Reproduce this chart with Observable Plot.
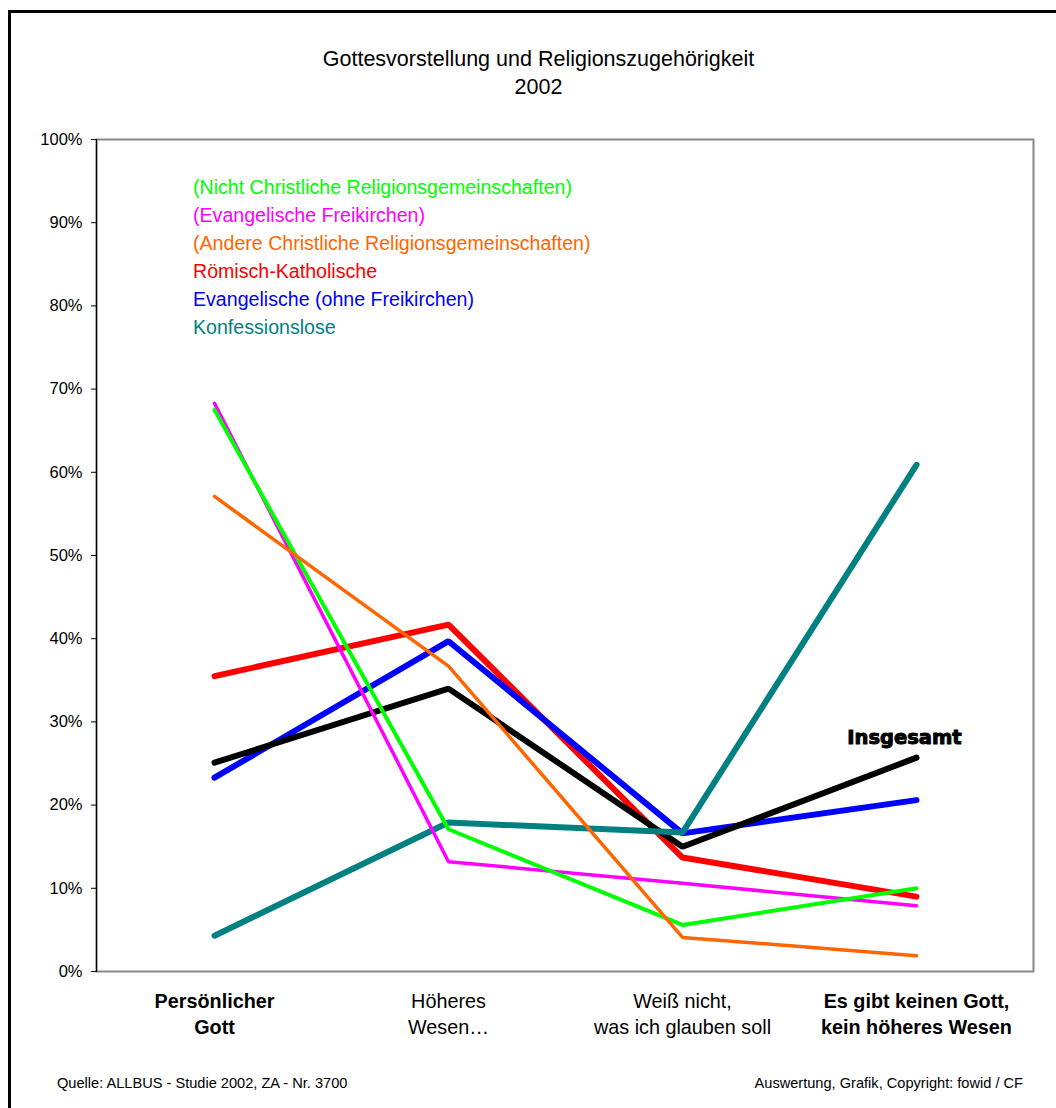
<!DOCTYPE html>
<html><head><meta charset="utf-8">
<script src="https://cdn.jsdelivr.net/npm/d3@7"></script>
<script src="https://cdn.jsdelivr.net/npm/@observablehq/plot@0.6"></script>
<style>
html,body{margin:0;padding:0;}
body{width:1056px;height:1108px;overflow:hidden;background:#fff;font-family:"Liberation Sans",Arial,sans-serif;position:relative;}
#frame{position:absolute;left:8px;top:10px;width:1200px;height:1200px;border-left:3px solid #000;border-top:3px solid #000;}
#title{position:absolute;left:0;width:1077px;top:45px;text-align:center;font-size:21.5px;line-height:28px;color:#000;}
#chart{position:absolute;left:0;top:0;}
#legend{position:absolute;left:193px;top:173px;font-size:19.6px;line-height:28px;white-space:nowrap;}
.foot{position:absolute;top:1075px;font-size:14.6px;color:#000;white-space:nowrap;}
</style>
</head><body>
<div id="frame"></div>
<div id="title">Gottesvorstellung und Religionszugehörigkeit<br>2002</div>
<div id="chart"></div>
<div id="legend"></div>
<div class="foot" style="left:57px">Quelle: ALLBUS - Studie 2002, ZA - Nr. 3700</div>
<div class="foot" style="right:33px">Auswertung, Grafik, Copyright: fowid / CF</div>
<script>
const categories = ["Persönlicher\nGott", "Höheres\nWesen…", "Weiß nicht,\nwas ich glauben soll", "Es gibt keinen Gott,\nkein höheres Wesen"];
const boldCategories = ["Persönlicher\nGott", "Es gibt keinen Gott,\nkein höheres Wesen"];
const yTicks = [0,10,20,30,40,50,60,70,80,90,100];

const seriesNames = [
  "Römisch-Katholische",
  "Evangelische (ohne Freikirchen)",
  "Insgesamt",
  "Konfessionslose",
  "(Evangelische Freikirchen)",
  "(Nicht Christliche Religionsgemeinschaften)",
  "(Andere Christliche Religionsgemeinschaften)"
];
const katholisch      = [35.5, 41.7, 13.7, 9.0];
const evangelisch     = [23.3, 39.7, 16.6, 20.6];
const insgesamt       = [25.1, 34.0, 15.0, 25.7];
const konfessionslos  = [4.3, 17.9, 16.7, 60.9];
const freikirchen     = [68.3, 13.2, 10.6, 7.9];
const nichtChristlich = [67.5, 17.1, 5.6, 10.0];
const andereChristl   = [57.1, 36.7, 4.1, 1.9];
const seriesValues = [katholisch, evangelisch, insgesamt, konfessionslos, freikirchen, nichtChristlich, andereChristl];
const seriesColors = ["#ff0000", "#0000ff", "#000000", "#008080", "#ff00ff", "#00ff00", "#ff6600"];
const seriesWidths = [6, 6, 6, 6, 3.5, 4, 3.5];

const legendOrder = [
  "(Nicht Christliche Religionsgemeinschaften)",
  "(Evangelische Freikirchen)",
  "(Andere Christliche Religionsgemeinschaften)",
  "Römisch-Katholische",
  "Evangelische (ohne Freikirchen)",
  "Konfessionslose"
];

const rows = seriesNames.flatMap((s, i) => seriesValues[i].map((v, j) => ({series: s, cat: categories[j], value: v})));

const lineMarks = seriesNames.map((s, i) => Plot.line(rows.filter(d => d.series === s), {
  x: "cat", y: "value", stroke: seriesColors[i], strokeWidth: seriesWidths[i],
  strokeLinejoin: "miter", strokeLinecap: "round"
}));

const totalLast = rows.filter(d => d.series === "Insgesamt" && d.cat === categories[3]);

const W = 1056, H = 1060;
const chart = Plot.plot({
  width: W, height: H,
  marginTop: 139, marginLeft: 96, marginRight: 23, marginBottom: H - 971,
  style: {fontFamily: "'Liberation Sans', Arial, sans-serif", background: "transparent"},
  x: {type: "point", domain: categories, padding: 0.5, label: null},
  y: {domain: [0, 100], label: null},
  marks: [
    Plot.frame({stroke: "#888", strokeWidth: 2}),
    Plot.frame({anchor: "left", stroke: "#000", strokeWidth: 1.2}),
    Plot.axisY(yTicks, {tickSize: 5, tickPadding: 9, fontSize: 16.5, tickFormat: d => d + "%", stroke: "#000", color: "#000", label: null}),
    Plot.axisX(boldCategories, {tickSize: 0, tickPadding: 18, fontSize: 19.8, fontWeight: "bold", lineHeight: 1.31, color: "#000", label: null}),
    Plot.axisX(categories.filter(c => !boldCategories.includes(c)), {tickSize: 0, tickPadding: 18, fontSize: 19.8, lineHeight: 1.31, color: "#000", label: null}),
    ...lineMarks,
    Plot.text(totalLast, {x: "cat", y: "value", text: d => d.series, dy: -20, dx: -12, fontSize: 19.5, fontWeight: "bold",
      fontFamily: "'DejaVu Sans', sans-serif", fill: "#000", stroke: "#000", strokeWidth: 1})
  ]
});
document.getElementById("chart").appendChild(chart);

const lg = document.getElementById("legend");
legendOrder.forEach(name => {
  const d = document.createElement("div");
  d.textContent = name;
  d.style.color = seriesColors[seriesNames.indexOf(name)];
  lg.appendChild(d);
});
</script>
</body></html>
